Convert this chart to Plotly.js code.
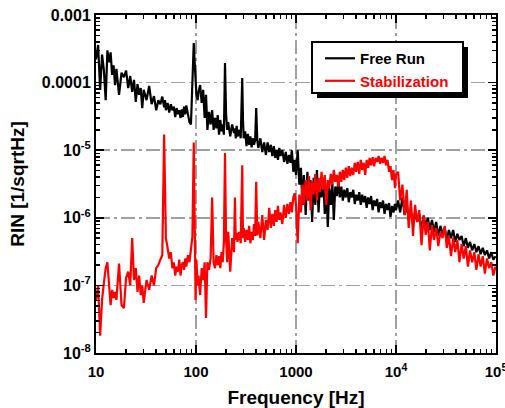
<!DOCTYPE html>
<html>
<head>
<meta charset="utf-8">
<script src="https://cdn.plot.ly/plotly-3.0.1.min.js"></script>
<style>html,body{margin:0;padding:0;background:#fff;}#chart{width:505px;height:408px;}</style>
</head>
<body>
<div id="chart"></div>
<script>
// Frequency axis (Hz), shared by both measurements
const freq = [
  10, 10.5, 11, 11.5, 12, 12.5, 13, 13.5, 14, 14.5, 15, 15.5, 16, 17, 18, 19, 20, 21, 22, 23, 24, 25, 26, 27, 28, 29, 30,
  32, 34, 36, 38, 40, 42, 44, 46, 48, 49, 50, 52, 54, 56, 58, 60, 62, 64, 66, 68, 70, 72, 74, 76, 78, 80, 83, 86, 89,
  92, 95, 97, 99, 101, 104,
  106, 110, 114, 118, 122, 126, 130, 135, 140, 145, 150, 155, 160, 165, 170, 175, 180, 185, 190, 195,
  200, 205, 210, 220, 230, 240, 245, 250, 255, 260, 270, 280, 290, 295, 300, 310, 320, 330, 340, 350,
  360, 370, 380, 390, 400, 410, 420, 440, 460, 480, 500, 520, 540, 560, 580, 600, 620, 640, 660, 680,
  700, 730, 760, 790, 820, 850, 880, 910, 940, 970, 1000,
  1040, 1080, 1120, 1160, 1200, 1250, 1300, 1350, 1400, 1450, 1500, 1560, 1620, 1680, 1740, 1800, 1870, 1940, 2010, 2080,
  2150, 2230, 2310, 2390, 2470, 2560, 2650, 2740, 2840, 2940, 3040, 3150, 3260, 3370, 3490, 3610, 3740, 3870, 4000, 4140,
  4290, 4440, 4590, 4750, 4920, 5090, 5270, 5450, 5640, 5840, 6040, 6250, 6470, 6700, 6930, 7170, 7420, 7680, 7950, 8230,
  8520, 8810, 9120, 9440, 9770, 10000,
  10500, 11000, 11600, 12200, 12800, 13400, 14100, 14800, 15500, 16300, 17100, 18000, 18900, 19800, 20800, 21800, 22900,
  24000, 25200, 26500, 27800, 29200, 30700, 32200, 33800, 35500, 37300, 39100, 41100, 43100, 45300, 47500, 49900, 52400,
  55000, 57800, 60700, 63700, 66900, 70200, 73700, 77400, 81300, 85400, 89600, 94100, 98800
];

// RIN [1/sqrtHz], free running laser
const freeRun = [
  2.2e-4, 3.6e-4, 7.8e-5, 2.6e-4, 1.5e-4, 5.5e-5, 3.0e-4, 2.0e-4, 2.8e-4, 1.3e-4, 1.8e-4, 9.2e-5, 1.6e-4, 6.6e-5, 1.4e-4,
  1.2e-4, 1.5e-4, 8.3e-5, 1.25e-4, 7.3e-5, 1.1e-4, 5.2e-5, 9.5e-5, 6.6e-5, 8.3e-5, 4.2e-5, 7.8e-5, 5.5e-5, 8.9e-5, 4.8e-5,
  6.3e-5, 3.9e-5, 5.5e-5, 4.8e-5, 6.2e-5, 4.3e-5, 5.5e-5, 3.9e-5, 5.0e-5, 3.6e-5, 4.8e-5, 3.9e-5, 4.4e-5, 3.1e-5, 4.2e-5,
  3.4e-5, 3.9e-5, 3.0e-5, 4.0e-5, 3.1e-5, 4.4e-5, 3.4e-5, 4.6e-5, 3.4e-5, 2.6e-5, 2.4e-5, 1.0e-4, 3.85e-4, 2.0e-4, 1.1e-4,
  6.6e-5, 5.5e-5,
  7.3e-5, 9.2e-5, 5.0e-5, 7.8e-5, 3.0e-5, 6.6e-5, 2.0e-5, 3.7e-5, 2.4e-5, 3.9e-5,
  2.0e-5, 3.0e-5, 2.1e-5, 3.3e-5, 1.7e-5, 2.8e-5, 1.9e-5, 2.4e-5, 1.7e-5, 1.95e-4,
  3.3e-5, 2.0e-5, 2.6e-5, 1.6e-5, 2.4e-5, 1.8e-5, 2.1e-5, 1.5e-5, 2.3e-5, 1.6e-5,
  2.0e-5, 1.5e-5, 1.17e-4, 2.8e-5, 1.5e-5, 1.9e-5, 1.15e-5, 1.75e-5, 1.2e-5, 1.6e-5,
  1.1e-5, 1.5e-5, 1.2e-5, 1.4e-5, 4.2e-5, 1.4e-5, 1.08e-5, 1.5e-5, 9.4e-6, 1.3e-5,
  8.5e-6, 1.3e-5, 9.4e-6, 1.2e-5, 8.2e-6, 1.15e-5, 7.7e-6, 1.0e-5, 7.2e-6, 1.08e-5,
  8.2e-6, 1.0e-5, 6.7e-6, 9.4e-6, 6.3e-6, 8.5e-6, 6.5e-6, 1.0e-5, 4.8e-6, 7.2e-6,
  4.3e-6,
  1.0e-5, 3.1e-6, 5.5e-6, 1.55e-6, 4.3e-6, 1.1e-6, 4.8e-6, 1.8e-6, 3.6e-6, 8.7e-7,
  3.9e-6, 1.55e-6, 5.1e-6, 1.2e-6, 3.4e-6, 2.0e-6, 3.9e-6, 1.14e-6, 2.6e-6, 7.3e-7,
  2.75e-6, 1.55e-6, 3.2e-6, 9.3e-7, 2.9e-6, 2.1e-6, 3.4e-6, 2.0e-6, 2.9e-6, 1.8e-6,
  2.6e-6, 2.0e-6, 2.75e-6, 1.7e-6, 2.4e-6, 2.0e-6, 2.6e-6, 1.6e-6, 2.2e-6, 1.8e-6,
  2.4e-6, 1.55e-6, 2.2e-6, 1.7e-6, 2.1e-6, 1.4e-6, 2.0e-6, 1.6e-6, 2.1e-6, 1.3e-6,
  1.8e-6, 1.5e-6, 1.9e-6, 1.2e-6, 1.7e-6, 1.4e-6, 1.8e-6, 1.14e-6, 1.6e-6, 1.3e-6,
  1.65e-6, 1.03e-6, 1.5e-6, 1.2e-6, 1.6e-6, 1.3e-6,
  1.8e-6, 1.2e-6, 2.0e-6, 1.1e-6, 1.6e-6, 9.3e-7, 1.3e-6, 8.1e-7, 1.2e-6, 8.7e-7,
  1.14e-6, 6.6e-7, 1.06e-6, 7.6e-7, 1.0e-6, 6.6e-7, 9.3e-7, 6.2e-7, 8.7e-7, 5.4e-7,
  7.6e-7, 5.8e-7, 7.1e-7, 4.7e-7, 6.6e-7, 5.0e-7, 6.6e-7, 4.4e-7, 5.8e-7, 4.7e-7,
  5.4e-7, 3.8e-7, 5.0e-7, 3.6e-7, 4.4e-7, 3.3e-7, 4.1e-7, 3.1e-7, 3.8e-7, 2.9e-7,
  3.6e-7, 2.8e-7, 3.3e-7, 2.5e-7, 3.1e-7, 2.4e-7, 2.7e-7
];

// RIN [1/sqrtHz], with stabilization
const stabilized = [
  6.1e-8, 1.0e-7, 1.8e-8, 6.1e-8, 1.1e-7, 1.8e-7, 2.2e-7, 8.6e-8, 5.1e-8, 8.6e-8, 6.5e-8, 8.0e-8, 6.1e-8, 2.1e-7, 5.1e-8,
  4.6e-8, 1.3e-7, 1.6e-7, 1.0e-7, 5.0e-7, 1.2e-7, 1.8e-7, 8.0e-8, 1.4e-7, 7.2e-8, 1.0e-7, 5.5e-8, 1.2e-7, 8.6e-8, 1.4e-7,
  1.0e-7, 1.8e-7, 2.0e-7, 2.4e-7, 2.8e-7, 1.7e-5, 2.6e-6, 5.0e-7, 3.6e-7, 2.5e-7, 3.1e-7, 1.8e-7, 2.2e-7, 1.4e-7, 1.9e-7,
  1.6e-7, 2.4e-7, 1.4e-7, 2.0e-7, 2.2e-7, 1.7e-7, 2.5e-7, 1.9e-7, 2.8e-7, 2.2e-7, 3.3e-7, 5.2e-7, 1.3e-5, 5.5e-7, 6.1e-8,
  2.4e-7, 1.0e-7,
  1.4e-7, 7.2e-8, 1.8e-7, 1.2e-7, 2.2e-7, 3.3e-8, 2.2e-7, 1.7e-7, 2.5e-7, 2.0e-6,
  2.2e-7, 1.8e-7, 2.8e-7, 2.0e-7, 2.7e-7, 1.8e-7, 3.1e-7, 2.2e-7, 4.4e-7, 9.1e-6,
  4.7e-7, 2.2e-7, 6.2e-7, 1.6e-7, 5.0e-7, 3.1e-7, 2.0e-6, 4.7e-7, 6.0e-7, 4.4e-7,
  6.2e-7, 4.2e-7, 6.0e-6, 5.0e-7, 7.1e-7, 4.4e-7, 6.6e-7, 4.7e-7, 7.6e-7, 4.2e-7,
  6.2e-7, 4.7e-7, 8.1e-7, 5.4e-7, 3.4e-6, 5.5e-7, 8.7e-7, 5.0e-7, 1.1e-6, 4.7e-7,
  9.3e-7, 6.6e-7, 1.4e-6, 7.1e-7, 1.14e-6, 7.6e-7, 1.3e-6, 8.7e-7, 1.5e-6, 9.3e-7,
  1.2e-6, 8.1e-7, 1.55e-6, 1.0e-6, 1.6e-6, 1.14e-6, 1.7e-6, 1.2e-6, 2.0e-6, 2.3e-6,
  1.55e-6,
  4.2e-7, 2.2e-6, 1.2e-6, 3.1e-6, 1.55e-6, 3.6e-6, 1.8e-6, 4.15e-6, 1.3e-6, 3.4e-6,
  2.2e-6, 4.45e-6, 1.8e-6, 3.9e-6, 2.4e-6, 4.8e-6, 2.6e-6, 4.3e-6, 1.55e-6, 3.6e-6,
  2.75e-6, 4.45e-6, 3.1e-6, 5.1e-6, 3.4e-6, 4.3e-6, 2.9e-6, 4.8e-6, 3.4e-6, 5.1e-6,
  3.6e-6, 5.5e-6, 3.9e-6, 5.8e-6, 4.15e-6, 5.5e-6, 4.3e-6, 6.5e-6, 4.8e-6, 6.7e-6,
  4.45e-6, 7.2e-6, 5.1e-6, 6.5e-6, 4.3e-6, 7.2e-6, 5.5e-6, 7.7e-6, 6.0e-6, 7.9e-6,
  5.8e-6, 7.7e-6, 6.7e-6, 8.2e-6, 6.3e-6, 7.7e-6, 6.5e-6, 8.2e-6, 6.0e-6, 7.2e-6,
  4.8e-6, 5.8e-6, 3.6e-6, 5.1e-6, 2.75e-6, 4.3e-6,
  4.8e-6, 1.8e-6, 3.1e-6, 1.1e-6, 2.6e-6, 7.1e-7, 1.8e-6, 5.4e-7, 1.55e-6, 8.7e-7,
  1.3e-6, 3.95e-7, 1.1e-6, 5.6e-7, 8.7e-7, 3.3e-7, 7.8e-7, 4.7e-7, 7.1e-7, 3.8e-7,
  6.2e-7, 5.0e-7, 7.6e-7, 3.6e-7, 5.4e-7, 2.7e-7, 5.0e-7, 3.1e-7, 4.7e-7, 2.2e-7,
  4.1e-7, 2.5e-7, 3.8e-7, 1.9e-7, 3.3e-7, 2.2e-7, 3.1e-7, 1.7e-7, 2.9e-7, 1.9e-7,
  2.7e-7, 1.5e-7, 2.5e-7, 1.8e-7, 2.2e-7, 1.4e-7, 1.9e-7
];

const seriesNames = ['Free Run', 'Stabilization'];
const xTickVals = [10, 100, 1000, 1e4, 1e5];
const xTickText = ['10', '100', '1000', '10<sup>4</sup>', '10<sup>5</sup>'];
const yTickVals = [1e-8, 1e-7, 1e-6, 1e-5, 1e-4, 1e-3];
const yTickText = ['10<sup>-8</sup>', '10<sup>-7</sup>', '10<sup>-6</sup>', '10<sup>-5</sup>', '0.0001', '0.001'];

// minor tick positions (2..9 within each decade)
function minorTicks(lo, hi) {
  const out = [];
  for (let e = lo; e < hi; e++) for (let m = 2; m <= 9; m++) out.push(m * Math.pow(10, e));
  return out;
}

const FONT = 'Liberation Sans, Arial, Helvetica, sans-serif';
const titleFont = {family: FONT, size: 19, color: '#000', weight: 'bold'};

const axisCommon = {
  type: 'log',
  showline: true, linecolor: '#000', linewidth: 2, mirror: 'allticks',
  ticks: 'inside', ticklen: 8, tickwidth: 1.5, tickcolor: '#000',
  showgrid: true, gridcolor: '#a0a0a0', gridwidth: 1.5, griddash: '14px,4px,3px,4px',
  zeroline: false, tickmode: 'array', fixedrange: true, ticklabeloverflow: 'allow'
};

const traces = [
  {x: freq, y: freeRun, type: 'scatter', mode: 'lines', name: seriesNames[0],
   line: {color: '#000000', width: 2.2}, legendgroup: 'a'},
  {x: freq, y: stabilized, type: 'scatter', mode: 'lines',
   name: '<span style="color:#ff0000">' + seriesNames[1] + '</span>',
   line: {color: '#ff0000', width: 2.2}, legendgroup: 'b'}
];

const layout = {
  width: 505, height: 408,
  margin: {l: 96, r: 9, t: 15, b: 55, pad: 0},
  paper_bgcolor: '#fff', plot_bgcolor: '#fff',
  showlegend: true,
  legend: {x: 0.56, y: 0.92, xanchor: 'left', yanchor: 'top', bgcolor: 'rgba(0,0,0,0)',
           borderwidth: 0, font: {family: FONT, size: 15, color: '#000', weight: 'bold'},
           tracegroupgap: 3, traceorder: 'normal'},
  xaxis: Object.assign({}, axisCommon, {
    range: [1, 5], tickvals: xTickVals, ticktext: xTickText,
    tickfont: {family: FONT, size: 15, color: '#000', weight: 'bold'}, ticklabelstandoff: 4,
    minor: {tickmode: 'array', tickvals: minorTicks(1, 5), ticks: 'inside', ticklen: 4, tickwidth: 1.5, tickcolor: '#000', showgrid: false},
    title: {text: 'Frequency [Hz]', font: titleFont, standoff: 12}
  }),
  yaxis: Object.assign({}, axisCommon, {
    range: [-8, -3], tickvals: yTickVals, ticktext: yTickText,
    tickfont: {family: FONT, size: 16, color: '#000', weight: 'bold'},
    minor: {tickmode: 'array', tickvals: minorTicks(-8, -3), ticks: 'inside', ticklen: 4, tickwidth: 1.5, tickcolor: '#000', showgrid: false},
    title: {text: 'RIN [1/sqrtHz]', font: titleFont, standoff: 12}
  }),
  shapes: [
    // legend drop shadow and frame
    {type: 'rect', xref: 'paper', yref: 'paper', x0: 0.5525, x1: 0.93, y0: 0.7544, y1: 0.9053,
     fillcolor: '#000', line: {width: 0}, layer: 'above'},
    {type: 'rect', xref: 'paper', yref: 'paper', x0: 0.54, x1: 0.9175, y0: 0.7692, y1: 0.9201,
     fillcolor: '#fff', line: {width: 2, color: '#000'}, layer: 'above'}
  ]
};

Plotly.newPlot('chart', traces, layout, {displayModeBar: false, staticPlot: true});
</script>
</body>
</html>
